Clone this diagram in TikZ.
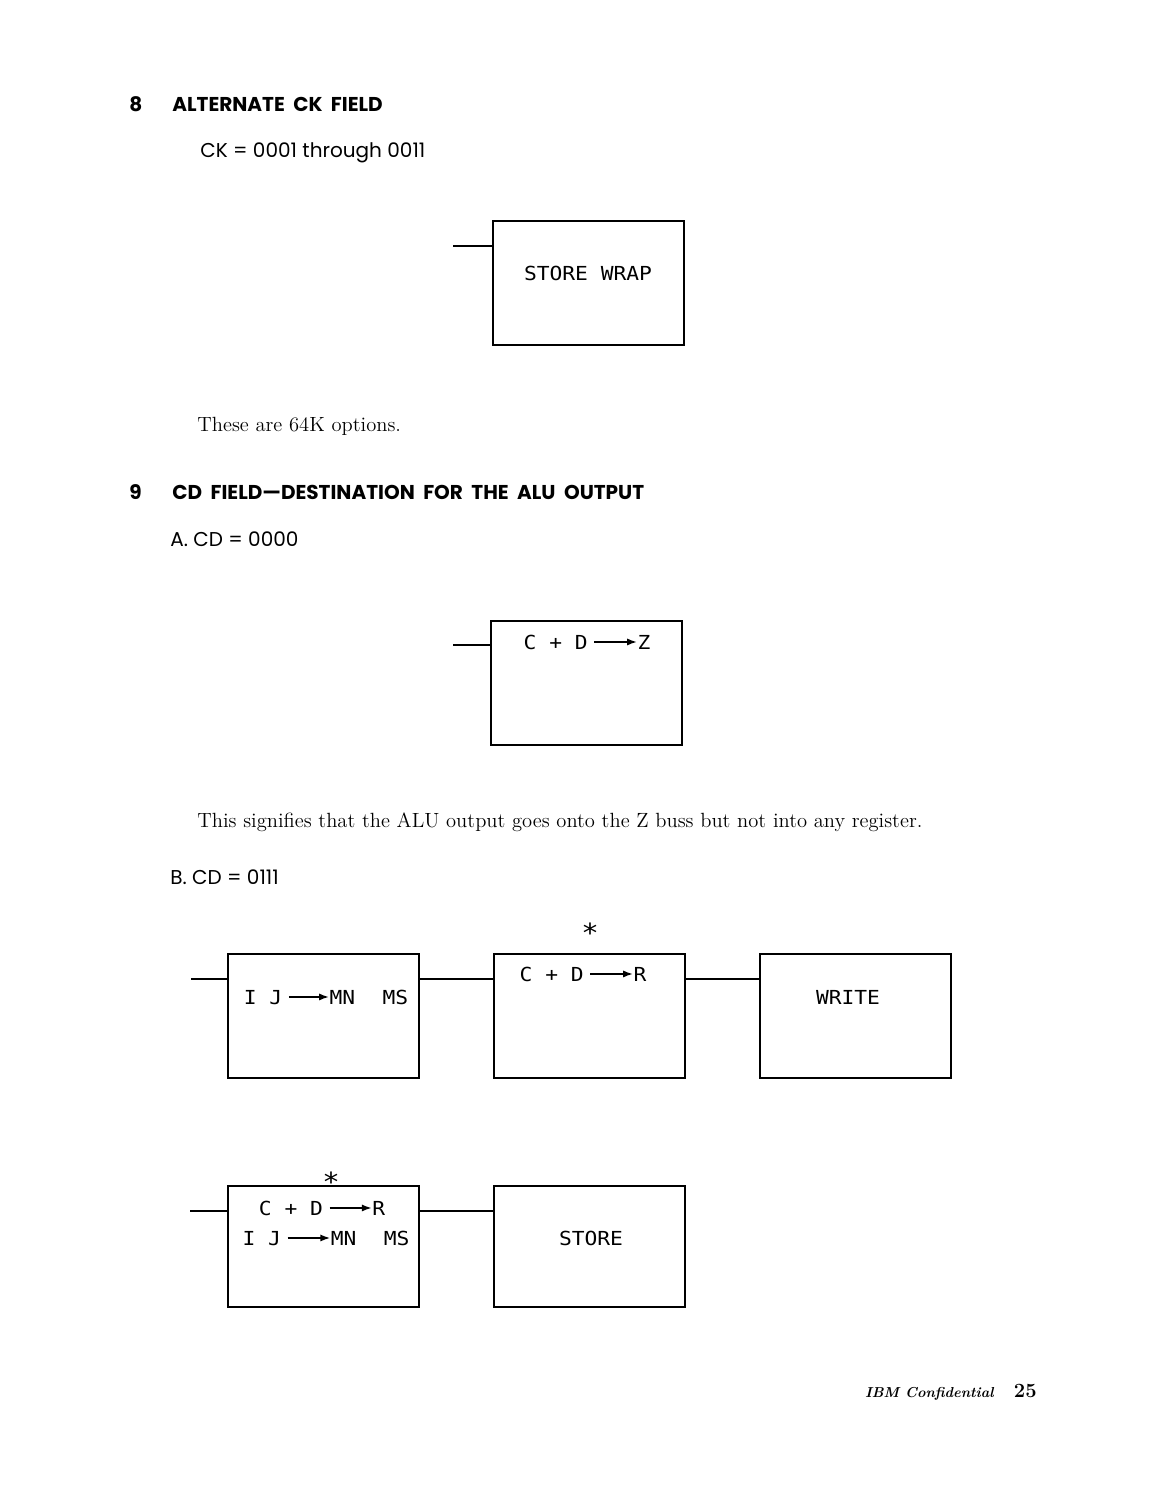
\documentclass[tikz,border=0pt]{standalone}
\usepackage{fontspec}
\newfontfamily\headfont{Poppins}
\newfontfamily\boxfont{DejaVu Sans Mono}[FakeStretch=1.1]
\usetikzlibrary{arrows.meta, positioning}
\newcommand{\widewords}{\spaceskip=0.42em\relax}
\tikzset{
  opbox/.style={draw, line width=1.2pt, minimum width=3.82cm, minimum height=2.48cm, inner sep=0pt, outer sep=0pt},
  optext/.style={font=\boxfont\fontsize{11}{14}\selectfont, inner sep=0pt, anchor=base},
  startext/.style={font=\boxfont\fontsize{15}{16}\selectfont, inner sep=0pt, anchor=base},
  headtext/.style={font=\headfont\bfseries\fontsize{11.4}{14}\selectfont\widewords, inner sep=0pt, anchor=base west},
  subtext/.style={font=\headfont\fontsize{11.4}{14}\selectfont, inner sep=0pt, anchor=base west},
  bodytext/.style={font=\fontsize{11.7}{14}\selectfont, inner sep=0pt, anchor=base west},
  wire/.style={line width=1.2pt},
}
\newcommand{\goesto}[1]{\hspace{0.12cm}\tikz[baseline=-4pt]\draw[line width=0.8pt, -{Latex[length=5.5pt,width=4pt]}] (0pt,0pt) -- (#1,0pt);}

\begin{document}
\begin{tikzpicture}[x=0.02cm, y=-0.02cm]
  \useasboundingbox[fill=white] (0,0) rectangle (1156,1497);
  \node[headtext] (n8) at (129,112) {8};
  \node[headtext] (h8) at (172,112) {ALTERNATE CK FIELD};
  \node[subtext] (ck) at (200,157) {CK = 0001 through 0011};

  \node[opbox, anchor=north west] (wrap) at (493,221) {};
  \node[optext] (wrapt) at (588,280) {STORE WRAP};
  \coordinate (wrapin) at (453,246);
  \draw[wire] (wrapin) -- (wrapin -| wrap.west);

  \node[bodytext] (opts) at (197,431) {These are 64K options.};
  \node[headtext] (n9) at (129,499.5) {9};
  \node[headtext] (h9) at (172,499.5) {CD FIELD—DESTINATION FOR THE ALU OUTPUT};
  \node[subtext] (cda) at (170,546) {A. CD = 0000};

  \node[opbox, anchor=north west] (cdz) at (491,621) {};
  \node[optext] (cdzt) at (587,649) {C + D\goesto{0.85cm}Z};
  \coordinate (cdzin) at (453,645);
  \draw[wire] (cdzin) -- (cdzin -| cdz.west);

  \node[bodytext] (sig) at (197,827) {This signifies that the ALU output goes onto the Z buss but not into any register.};
  \node[subtext] (cdb) at (170,884) {B. CD = 0111};

  \node[opbox, anchor=north west] (ij) at (228,954) {};
  \node[opbox, right=1.5cm of ij] (cdr) {};
  \node[opbox, right=1.5cm of cdr] (wr) {};
  \coordinate (ijin) at (191,979);
  \draw[wire] (ijin) -- (ijin -| ij.west);
  \draw[wire] ([yshift=-0.5cm]ij.north east) -- ([yshift=-0.5cm]cdr.north west);
  \draw[wire] ([yshift=-0.5cm]cdr.north east) -- ([yshift=-0.5cm]wr.north west);
  \node[optext] (ijt) at (326,1004) {I J\goesto{0.8cm}MN\hspace{0.55cm}MS};
  \node[optext] (cdrt) at (583,981) {C + D\goesto{0.85cm}R};
  \node[optext] (wrt) at (848,1004) {WRITE};
  \node[startext] (star1) at (590,942) {*};

  \node[opbox, minimum height=2.42cm, anchor=north west] (cdij) at (228,1186) {};
  \node[opbox, minimum height=2.42cm, right=1.5cm of cdij] (st) {};
  \coordinate (cdijin) at (190,1211);
  \draw[wire] (cdijin) -- (cdijin -| cdij.west);
  \draw[wire] ([yshift=-0.5cm]cdij.north east) -- ([yshift=-0.5cm]st.north west);
  \node[startext] (star2) at (331,1191) {*};
  \node[optext] (cdr2t) at (322,1215) {C + D\goesto{0.84cm}R};
  \node[optext] (ij2t) at (326,1245) {I J\goesto{0.85cm}MN\hspace{0.55cm}MS};
  \node[optext] (stt) at (591,1245) {STORE};

  \node[anchor=base east, font=\bfseries\fontsize{11.5}{14}\selectfont, inner sep=0pt] (pg) at (1037,1397) {25};
  \node[anchor=base east, font=\bfseries\itshape\fontsize{8.2}{10}\selectfont, inner sep=0pt] (conf) at (994,1397) {IBM Confidential};
\end{tikzpicture}
\end{document}
